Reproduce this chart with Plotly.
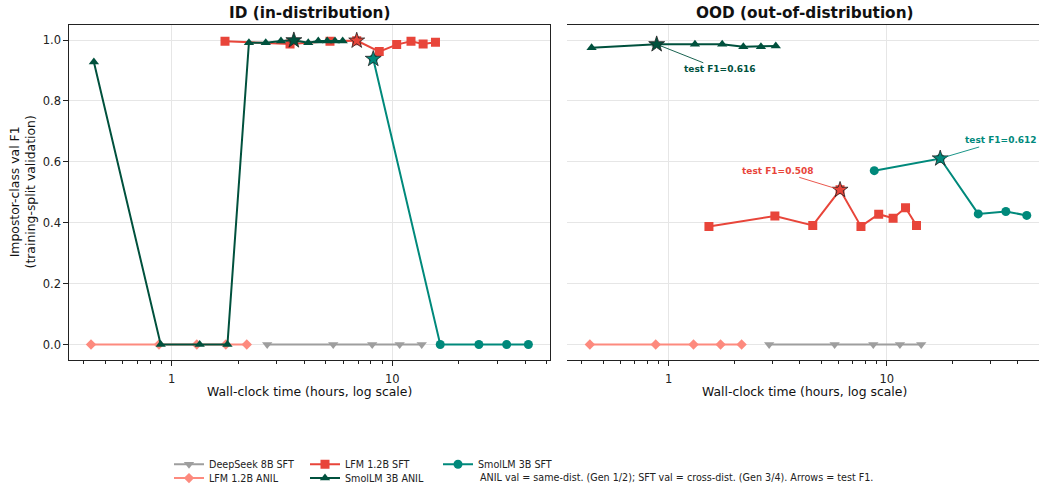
import math
import plotly.graph_objects as go

W, H = 1039, 493

names = ["DeepSeek 8B SFT", "LFM 1.2B ANIL", "LFM 1.2B SFT", "SmolLM 3B ANIL", "SmolLM 3B SFT"]
colors = ["#9e9e9e", "#fd8a7e", "#e8453a", "#00513d", "#00897b"]
symbols = ["triangle-down", "diamond", "square", "triangle-up", "circle"]
msizes = [9, 8, 9, 9, 9]

# ---- ID (in-distribution) panel: wall-clock hours and val F1 ----
id_deepseek_x = [2.71, 5.40, 8.11, 10.8, 13.6]
id_deepseek_y = [0.0, 0.0, 0.0, 0.0, 0.0]
id_lfm_anil_x = [0.431, 0.876, 1.30, 1.76, 2.19]
id_lfm_anil_y = [0.0, 0.0, 0.0, 0.0, 0.0]
id_lfm_sft_x = [1.745, 3.44, 5.22, 6.90, 8.73, 10.47, 12.16, 13.8, 15.7]
id_lfm_sft_y = [0.996, 0.987, 0.996, 0.998, 0.962, 0.985, 0.996, 0.987, 0.993]
id_smol_anil_x = [0.444, 0.892, 1.34, 1.79, 2.24, 2.67, 3.13, 3.58, 4.16, 4.62, 5.07, 5.50, 5.96]
id_smol_anil_y = [0.928, 0.0, 0.0, 0.0, 0.991, 0.991, 0.997, 0.999, 0.991, 0.997, 0.997, 0.997, 0.997]
id_smol_sft_x = [8.20, 16.5, 24.7, 33.0, 41.4]
id_smol_sft_y = [0.938, 0.0, 0.0, 0.0, 0.0]
id_best = [None, None, 3, 7, 0]

# ---- OOD (out-of-distribution) panel ----
ood_deepseek_x = [2.89, 5.77, 8.68, 11.5, 14.4]
ood_deepseek_y = [0.0, 0.0, 0.0, 0.0, 0.0]
ood_lfm_anil_x = [0.435, 0.872, 1.30, 1.73, 2.16]
ood_lfm_anil_y = [0.0, 0.0, 0.0, 0.0, 0.0]
ood_lfm_sft_x = [1.53, 3.07, 4.58, 6.11, 7.62, 9.19, 10.7, 12.2, 13.7]
ood_lfm_sft_y = [0.388, 0.422, 0.391, 0.508, 0.388, 0.428, 0.415, 0.449, 0.391]
ood_smol_anil_x = [0.443, 0.881, 1.32, 1.76, 2.20, 2.65, 3.10]
ood_smol_anil_y = [0.975, 0.986, 0.986, 0.986, 0.978, 0.978, 0.980]
ood_smol_sft_x = [8.77, 17.6, 26.3, 35.2, 43.9]
ood_smol_sft_y = [0.571, 0.611, 0.429, 0.437, 0.424]
ood_best = [None, None, 3, 1, 1]

# test F1 arrows (OOD panel): series index, label
test_f1_series = [3, 2, 4]
test_f1_values = [0.616, 0.508, 0.612]

id_data = [(id_deepseek_x, id_deepseek_y), (id_lfm_anil_x, id_lfm_anil_y),
           (id_lfm_sft_x, id_lfm_sft_y), (id_smol_anil_x, id_smol_anil_y),
           (id_smol_sft_x, id_smol_sft_y)]
ood_data = [(ood_deepseek_x, ood_deepseek_y), (ood_lfm_anil_x, ood_lfm_anil_y),
            (ood_lfm_sft_x, ood_lfm_sft_y), (ood_smol_anil_x, ood_smol_anil_y),
            (ood_smol_sft_x, ood_smol_sft_y)]

# legend layout: matplotlib ncol=3, column-major
legend_ids = ["legend", "legend2", "legend3", "legend4", "legend5"]
legend_pos = [(169, 468), (169, 482), (305, 468), (305, 482), (438, 468)]

FONT = "DejaVu Sans"
fig = go.Figure()

def px(p):
    return p / W

def py(p):
    return 1 - p / H

for panel, (data, best, xa, ya) in enumerate([(id_data, id_best, "x", "y"), (ood_data, ood_best, "x2", "y2")]):
    for i, (xs, ys) in enumerate(data):
        fig.add_trace(go.Scatter(
            x=xs, y=ys, mode="lines+markers", name=names[i],
            line=dict(color=colors[i], width=2),
            marker=dict(symbol=symbols[i], size=msizes[i], color=colors[i]),
            xaxis=xa, yaxis=ya, showlegend=(panel == 0), legend=legend_ids[i]))
    for i, (xs, ys) in enumerate(data):
        b = best[i]
        if b is None:
            continue
        fig.add_trace(go.Scatter(
            x=[xs[b]], y=[ys[b]], mode="markers",
            marker=dict(symbol="star", size=12, color=colors[i], line=dict(color="#222222", width=0.8)),
            xaxis=xa, yaxis=ya, showlegend=False))

ann = []
offsets = [(63, 25), (-62, -19), (61, -18)]
for k, si in enumerate(test_f1_series):
    xs, ys = ood_data[si]
    b = ood_best[si]
    ax_, ay_ = offsets[k]
    ann.append(dict(x=math.log10(xs[b]), y=ys[b], xref="x2", yref="y2",
                    text="<b>test F1=%.3f</b>" % test_f1_values[k], showarrow=True,
                    ax=ax_, ay=ay_, arrowcolor=colors[si], arrowwidth=0.9, arrowhead=1,
                    arrowsize=0.9, font=dict(family=FONT, size=9, color=colors[si])))

def txt(x, y, text, size, **kw):
    d = dict(x=px(x), y=py(y), xref="paper", yref="paper", text=text, showarrow=False,
             xanchor="center", yanchor="middle", font=dict(family=FONT, size=size, color="#111"))
    d.update(kw)
    return d

ann.append(txt(309.6, 13, "<b>ID (in-distribution)</b>", 15.3))
ann.append(txt(804.9, 13, "<b>OOD (out-of-distribution)</b>", 15.3))
ann.append(txt(309.6, 395, "Wall-clock time (hours, log scale)", 12.4))
ann.append(txt(804.9, 395, "Wall-clock time (hours, log scale)", 12.4))
ann.append(txt(22, 194, "Impostor-class val F1<br>(training-split validation)", 12.4, textangle=-90))
ann.append(txt(478, 481, "ANIL val = same-dist. (Gen 1/2); SFT val = cross-dist. (Gen 3/4). Arrows = test F1.",
               9.6, xanchor="left", font=dict(family=FONT, size=9.6, color="#222")))

minor_vals = [0.4, 0.5, 0.6, 0.7, 0.8, 0.9, 2, 3, 4, 5, 6, 7, 8, 9, 20, 30, 40, 50]

def xaxis(domain, rng):
    return dict(domain=domain, type="log", range=rng, tickvals=[1, 10], ticktext=["1", "10"],
                ticks="outside", ticklen=5, tickwidth=1, tickcolor="#222", ticklabelstandoff=3,
                showline=True, mirror=True, linecolor="#222", linewidth=1,
                showgrid=True, gridcolor="#e6e6e6", gridwidth=1, zeroline=False,
                tickfont=dict(family=FONT, size=11.5, color="#222"), automargin=False,
                minor=dict(tickvals=minor_vals, ticks="outside", ticklen=3, tickwidth=0.8,
                           tickcolor="#222", showgrid=False))

def yaxis(domain, labels):
    return dict(domain=domain, range=[-0.05, 1.05], tickvals=[0, 0.2, 0.4, 0.6, 0.8, 1.0],
                ticktext=["0.0", "0.2", "0.4", "0.6", "0.8", "1.0"], showticklabels=labels,
                ticks="outside", ticklen=5, tickwidth=1, tickcolor="#222",
                showline=True, mirror=True, linecolor="#222", linewidth=1,
                showgrid=True, gridcolor="#e6e6e6", gridwidth=1, zeroline=False,
                tickfont=dict(family=FONT, size=11.5, color="#222"), automargin=False)

ydom = [1 - 362.7 / H, 1 - 25 / H]
leg_common = dict(orientation="v", yanchor="middle", xanchor="left", bgcolor="rgba(0,0,0,0)",
                  font=dict(family=FONT, size=9.6, color="#222"), tracegroupgap=0,
                  itemsizing="trace", borderwidth=0)
legends = {}
for lid, (lx, ly) in zip(legend_ids, legend_pos):
    legends[lid] = dict(x=px(lx), y=py(ly), **leg_common)

fig.update_layout(
    width=W, height=H, margin=dict(l=0, r=0, t=0, b=0),
    plot_bgcolor="white", paper_bgcolor="white",
    xaxis=xaxis([69.3 / W, 550 / W], [-0.464, 1.715]),
    xaxis2=xaxis([567.3 / W, 1.0], [-0.465, 1.6986]),
    yaxis=yaxis(ydom, True),
    yaxis2=yaxis(ydom, False),
    annotations=ann,
    **legends,
)
fig.write_html("out.html")
